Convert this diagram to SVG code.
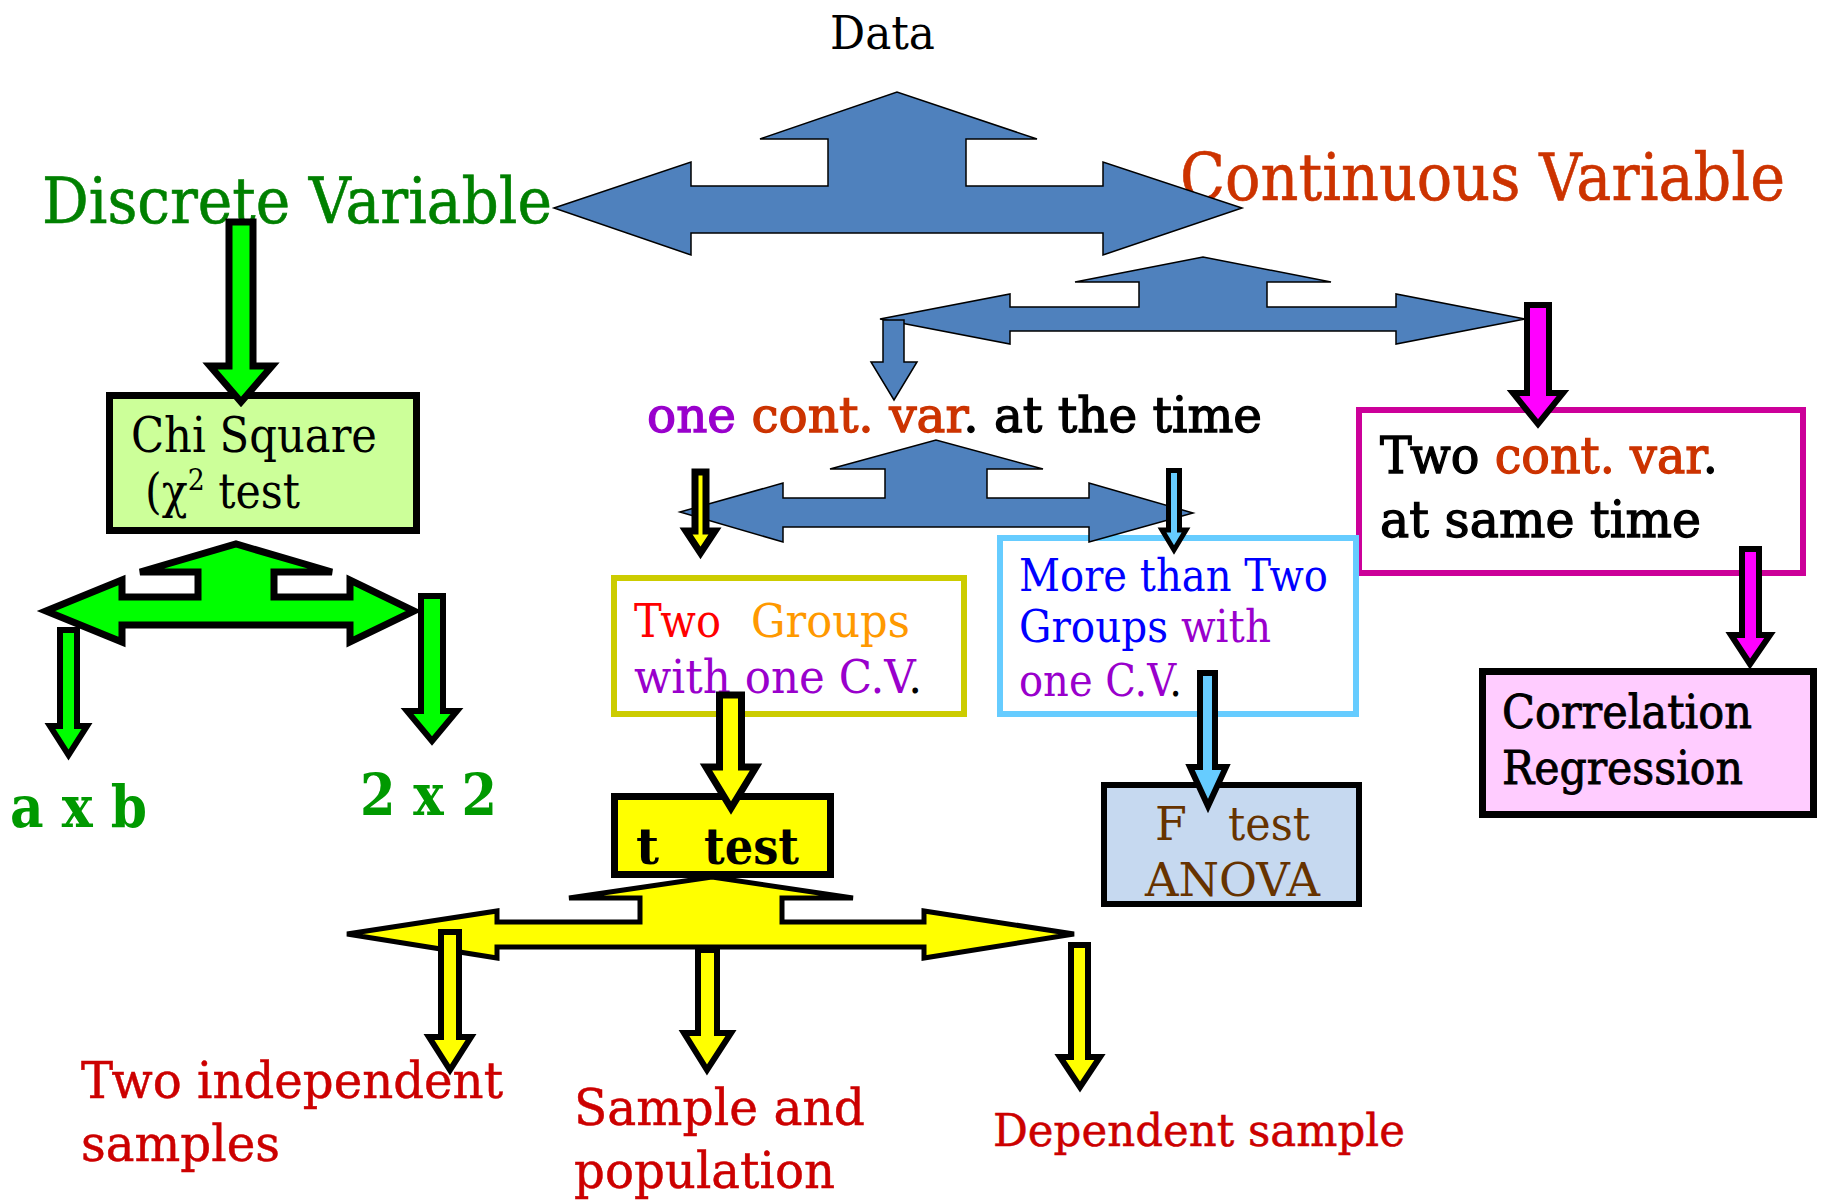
<svg xmlns="http://www.w3.org/2000/svg" width="1821" height="1200" viewBox="0 0 1821 1200">
<style>
text{font-family:"DejaVu Serif","Liberation Serif",serif}
.blue{fill:#4F81BD;stroke:#000;stroke-width:1.5;stroke-linejoin:miter}
.grn{fill:#00FF00;stroke:#000;stroke-width:7;stroke-linejoin:miter}
.grs{fill:#00FF00;stroke:#000;stroke-width:6;stroke-linejoin:miter}
.yel{fill:#FFFF00;stroke:#000;stroke-width:6;stroke-linejoin:miter}
.mag{fill:#FF00FF;stroke:#000;stroke-width:6;stroke-linejoin:miter}
.lb{fill:#66CCFF;stroke:#000;stroke-width:5;stroke-linejoin:miter}
.red{fill:#CC0000;stroke:#CC0000;stroke-width:0.5;font-size:50px}
.pur{fill:#9900CC}
.org{fill:#CC3300}
.brn{fill:#663300;font-size:46px}
.semi{stroke-width:1.3}
</style>
<rect width="1821" height="1200" fill="#fff"/>
<g id="nodes">
  <g id="data"><text x="830" y="49" font-size="46" textLength="105" lengthAdjust="spacingAndGlyphs">Data</text></g>
  <g id="discrete"><text x="42" y="223" font-size="64" fill="#008000" stroke="#008000" stroke-width="0.6" textLength="510" lengthAdjust="spacingAndGlyphs">Discrete Variable</text></g>
  <g id="continuous"><text x="1180" y="200" font-size="66" fill="#CC3300" stroke="#CC3300" stroke-width="0.6" textLength="605" lengthAdjust="spacingAndGlyphs">Continuous Variable</text></g>
  <g id="onecont"><text class="semi" x="647" y="432" font-size="48" textLength="615" lengthAdjust="spacingAndGlyphs"><tspan class="pur" stroke="#9900CC">one </tspan><tspan class="org" stroke="#CC3300">cont. var</tspan><tspan fill="#000" stroke="#000">. at the time</tspan></text></g>
  <g id="chi">
    <rect x="109.5" y="395.5" width="307" height="135" fill="#CCFF99" stroke="#000" stroke-width="7"/>
    <text x="131" y="452" font-size="48" textLength="246" lengthAdjust="spacingAndGlyphs">Chi Square</text>
    <text x="145" y="508" font-size="48" textLength="155" lengthAdjust="spacingAndGlyphs">(χ<tspan font-size="30" dy="-18">2</tspan><tspan dy="18"> test</tspan></text>
  </g>
  <g id="axb"><text x="10" y="827" font-size="58" font-weight="bold" fill="#009900" textLength="137" lengthAdjust="spacingAndGlyphs">a x b</text></g>
  <g id="twobytwo"><text x="360" y="815" font-size="58" font-weight="bold" fill="#009900" textLength="137" lengthAdjust="spacingAndGlyphs">2 x 2</text></g>
  <g id="twocont">
    <rect x="1359" y="410" width="444" height="163" fill="#fff" stroke="#CC0099" stroke-width="6"/>
    <text class="semi" x="1380" y="473" font-size="50" stroke="#000" textLength="338" lengthAdjust="spacingAndGlyphs">Two <tspan class="org" stroke="#CC3300">cont. var</tspan>.</text>
    <text class="semi" x="1380" y="537" font-size="50" stroke="#000" textLength="321" lengthAdjust="spacingAndGlyphs">at same time</text>
  </g>
  <g id="correlation">
    <rect x="1482.5" y="671.5" width="331" height="143" fill="#FFCCFF" stroke="#000" stroke-width="7"/>
    <text x="1502" y="728" font-size="47" stroke="#000" stroke-width="0.9" textLength="250" lengthAdjust="spacingAndGlyphs">Correlation</text>
    <text x="1502" y="784" font-size="47" stroke="#000" stroke-width="0.9" textLength="241" lengthAdjust="spacingAndGlyphs">Regression</text>
  </g>
  <g id="twogroups">
    <rect x="614" y="578" width="350" height="136" fill="#fff" stroke="#CCCC00" stroke-width="6"/>
    <text x="634" y="637" font-size="46" fill="#FF0000" textLength="87" lengthAdjust="spacingAndGlyphs">Two</text>
    <text x="751" y="637" font-size="46" fill="#FF9900" textLength="159" lengthAdjust="spacingAndGlyphs">Groups</text>
    <text x="634" y="693" font-size="46" textLength="288" lengthAdjust="spacingAndGlyphs"><tspan class="pur">with one C.V</tspan><tspan fill="#000">.</tspan></text>
  </g>
  <g id="morethan">
    <rect x="1000" y="538" width="356" height="176" fill="#fff" stroke="#66CCFF" stroke-width="6"/>
    <text x="1019" y="591" font-size="44" fill="#0000FF" textLength="309" lengthAdjust="spacingAndGlyphs">More than Two</text>
    <text x="1019" y="642" font-size="44" textLength="252" lengthAdjust="spacingAndGlyphs"><tspan fill="#0000FF">Groups </tspan><tspan class="pur">with</tspan></text>
    <text x="1019" y="696" font-size="44" textLength="163" lengthAdjust="spacingAndGlyphs"><tspan class="pur">one C.V</tspan><tspan fill="#000">.</tspan></text>
  </g>
  <g id="ttest">
    <rect x="614.5" y="796.5" width="216" height="78" fill="#FFFF00" stroke="#000" stroke-width="7"/>
    <text x="636" y="864" font-size="50" font-weight="bold">t</text>
    <text x="704" y="864" font-size="50" font-weight="bold" textLength="95" lengthAdjust="spacingAndGlyphs">test</text>
  </g>
  <g id="ftest">
    <rect x="1104" y="785" width="255" height="119" fill="#C6D9F0" stroke="#000" stroke-width="6"/>
    <text class="brn" x="1155" y="840">F</text>
    <text class="brn" x="1228" y="840" textLength="82" lengthAdjust="spacingAndGlyphs">test</text>
    <text class="brn" x="1145" y="896" textLength="175" lengthAdjust="spacingAndGlyphs">ANOVA</text>
  </g>
  <g id="independent">
    <text class="red" x="81" y="1098" textLength="422" lengthAdjust="spacingAndGlyphs">Two independent</text>
    <text class="red" x="81" y="1161" textLength="199" lengthAdjust="spacingAndGlyphs">samples</text>
  </g>
  <g id="samplepop">
    <text class="red" x="574" y="1125" textLength="291" lengthAdjust="spacingAndGlyphs">Sample and</text>
    <text class="red" x="574" y="1188" textLength="261" lengthAdjust="spacingAndGlyphs">population</text>
  </g>
  <g id="dependent"><text class="red" x="993" y="1146" style="font-size:44px" textLength="412" lengthAdjust="spacingAndGlyphs">Dependent sample</text></g>
</g>
<g id="connectors">
  <path class="blue" d="M554,208 L691,162 L691,186 L828,186 L828,139 L760,139 L897,92 L1037,139 L966,139 L966,186 L1103,186 L1103,162 L1242,208 L1103,255 L1103,233 L691,233 L691,255 Z"/>
  <path class="blue" d="M880,319 L1010,294 L1010,307 L1139,307 L1139,282 L1075,282 L1203,257 L1331,282 L1267,282 L1267,307 L1396,307 L1396,294 L1525,319 L1396,344 L1396,331 L1010,331 L1010,344 Z"/>
  <path class="blue" d="M883,320 L904,320 L904,362 L917,362 L894,400 L871,362 L883,362 Z"/>
  <path class="blue" d="M680,512 L783,483 L783,498 L885,498 L885,469 L830,469 L936,440 L1043,469 L987,469 L987,498 L1089,498 L1089,483 L1193,513 L1089,542 L1089,527 L783,527 L783,542 Z"/>
  <path class="grn" d="M229,222 L253,222 L253,366 L272,366 L241,402 L210,366 L229,366 Z"/>
  <path class="grn" d="M46,611 L122,580 L122,597 L198,597 L198,572 L140,572 L236,544 L332,572 L274,572 L274,597 L350,597 L350,580 L414,611 L350,642 L350,625 L122,625 L122,642 Z"/>
  <path class="grs" d="M60,630 L77,630 L77,726 L87,726 L68.5,755 L50,726 L60,726 Z"/>
  <path class="grs" d="M421,596 L443,596 L443,711 L457,711 L432,741 L407,711 L421,711 Z"/>
  <path class="mag" d="M1527,305 L1549,305 L1549,393 L1563,393 L1538,424 L1513,393 L1527,393 Z"/>
  <path class="mag" d="M1742,549 L1759,549 L1759,635 L1770,635 L1750,664 L1731,635 L1742,635 Z"/>
  <path class="yel" d="M695,472 L706,472 L706,531 L715,531 L700.5,553 L686,531 L695,531 Z" style="stroke-width:7"/>
  <path class="lb" d="M1168.5,470.5 L1179.5,470.5 L1179.5,530 L1186,530 L1174,550 L1162,530 L1168.5,530 Z"/>
  <path class="yel" d="M719.5,695 L741.5,695 L741.5,767 L756,767 L731,808 L706,767 L719.5,767 Z" style="stroke-width:7"/>
  <path class="lb" d="M1200,673 L1215,673 L1215,767 L1226,767 L1208,806 L1190,767 L1200,767 Z" style="stroke-width:6"/>
  <path class="yel" d="M347,934 L497,911 L497,922 L640,922 L640,898 L569,898 L712,877 L853,898 L782,898 L782,922 L924,922 L924,911 L1074,934 L924,958 L924,947 L497,947 L497,958 Z" style="stroke-width:5"/>
  <path class="yel" d="M441,932 L459,932 L459,1037 L471,1037 L450,1070 L429,1037 L441,1037 Z"/>
  <path class="yel" d="M698,950 L717,950 L717,1033 L731,1033 L707,1070 L684,1033 L698,1033 Z"/>
  <path class="yel" d="M1071,945 L1088,945 L1088,1057 L1100,1057 L1080,1087 L1060,1057 L1071,1057 Z"/>
</g>
</svg>
